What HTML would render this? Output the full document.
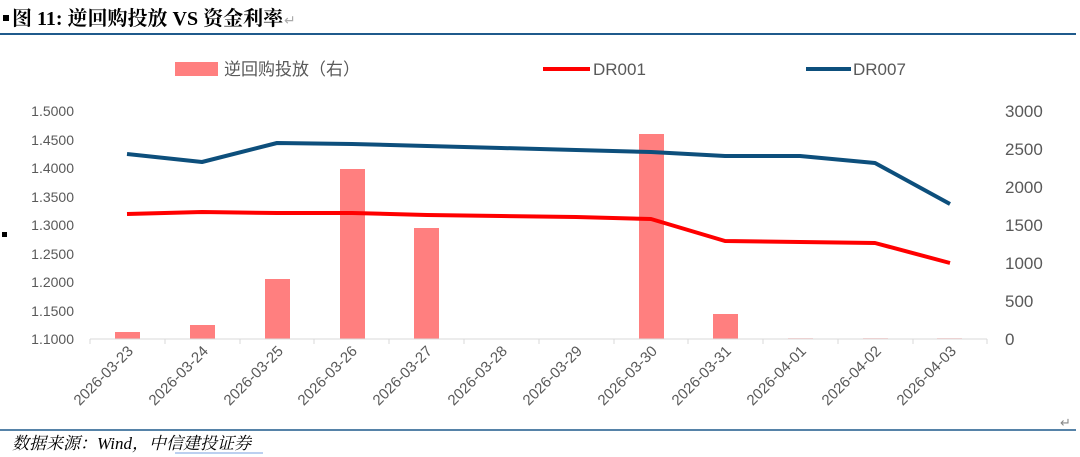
<!DOCTYPE html>
<html><head><meta charset="utf-8"><style>
body{margin:0;background:#fff;width:1080px;height:457px;overflow:hidden}
svg{display:block}
</style></head><body>
<svg width="1080" height="457" xmlns="http://www.w3.org/2000/svg" font-family="Liberation Sans, Noto Sans CJK SC, sans-serif">
<rect x="3" y="15" width="6" height="6" fill="#000"/>
<text x="12" y="25" font-size="20" font-weight="bold" font-family="Liberation Serif, Noto Serif CJK SC, serif" fill="#000">图 11: 逆回购投放 VS 资金利率</text>
<text x="284" y="25" font-size="14" fill="#aaa">↵</text>
<line x1="0" y1="34" x2="1076" y2="34" stroke="#1f5a8c" stroke-width="2"/>
<rect x="2" y="232" width="5" height="5" fill="#000"/>
<!-- legend -->
<rect x="175" y="62" width="43" height="14" fill="#ff7f7f"/>
<text x="224" y="75" font-size="17" fill="#595959">逆回购投放（右）</text>
<line x1="543" y1="69" x2="590" y2="69" stroke="#ff0000" stroke-width="4"/>
<text x="593" y="75" font-size="17" fill="#595959">DR001</text>
<line x1="806" y1="69" x2="851" y2="69" stroke="#0d4f7c" stroke-width="4"/>
<text x="853" y="75" font-size="17" fill="#595959">DR007</text>
<!-- left axis -->
<g font-size="14" fill="#595959" text-anchor="end">
<text x="74" y="116">1.5000</text><text x="74" y="145">1.4500</text><text x="74" y="173">1.4000</text><text x="74" y="202">1.3500</text><text x="74" y="230">1.3000</text><text x="74" y="259">1.2500</text><text x="74" y="287">1.2000</text><text x="74" y="316">1.1500</text><text x="74" y="344">1.1000</text>
</g>
<g font-size="17" fill="#595959" text-anchor="start">
<text x="1005" y="117">3000</text><text x="1005" y="155">2500</text><text x="1005" y="193">2000</text><text x="1005" y="231">1500</text><text x="1005" y="269">1000</text><text x="1005" y="307">500</text><text x="1005" y="345">0</text>
</g>
<!-- bars -->
<g fill="#ff7f7f">
<rect x="115" y="332" width="25" height="7"/>
<rect x="190" y="325" width="25" height="14"/>
<rect x="265" y="279" width="25" height="60"/>
<rect x="340" y="169" width="25" height="170"/>
<rect x="414" y="228" width="25" height="111"/>
<rect x="639" y="134" width="25" height="205"/>
<rect x="713" y="314" width="25" height="25"/>
<rect x="788" y="338" width="25" height="1" opacity="0.4"/>
<rect x="863" y="338" width="25" height="1" opacity="0.4"/>
<rect x="937" y="338" width="25" height="1" opacity="0.4"/>
</g>
<!-- x axis -->
<line x1="90" y1="339" x2="987" y2="339" stroke="#d9d9d9" stroke-width="1"/>
<g stroke="#d9d9d9">
<line x1="90" y1="339" x2="90" y2="344"/><line x1="165" y1="339" x2="165" y2="344"/><line x1="240" y1="339" x2="240" y2="344"/><line x1="314" y1="339" x2="314" y2="344"/><line x1="389" y1="339" x2="389" y2="344"/><line x1="464" y1="339" x2="464" y2="344"/><line x1="539" y1="339" x2="539" y2="344"/><line x1="614" y1="339" x2="614" y2="344"/><line x1="688" y1="339" x2="688" y2="344"/><line x1="763" y1="339" x2="763" y2="344"/><line x1="838" y1="339" x2="838" y2="344"/><line x1="913" y1="339" x2="913" y2="344"/><line x1="987" y1="339" x2="987" y2="344"/>
</g>
<g font-size="15" fill="#595959" text-anchor="end">
<text transform="translate(134,352) rotate(-45)">2026-03-23</text>
<text transform="translate(209,352) rotate(-45)">2026-03-24</text>
<text transform="translate(284,352) rotate(-45)">2026-03-25</text>
<text transform="translate(358,352) rotate(-45)">2026-03-26</text>
<text transform="translate(433,352) rotate(-45)">2026-03-27</text>
<text transform="translate(508,352) rotate(-45)">2026-03-28</text>
<text transform="translate(583,352) rotate(-45)">2026-03-29</text>
<text transform="translate(658,352) rotate(-45)">2026-03-30</text>
<text transform="translate(732,352) rotate(-45)">2026-03-31</text>
<text transform="translate(807,352) rotate(-45)">2026-04-01</text>
<text transform="translate(882,352) rotate(-45)">2026-04-02</text>
<text transform="translate(957,352) rotate(-45)">2026-04-03</text>
</g>
<!-- lines -->
<polyline fill="none" stroke="#ff0000" stroke-width="4" stroke-linejoin="round" points="127,214 202,212 277,213 352,213 427,215 501,216 576,217 651,219 725,241 800,242 875,243 950,263"/>
<polyline fill="none" stroke="#0d4f7c" stroke-width="4" stroke-linejoin="round" points="127,154 202,162 277,143 352,144 427,146 501,148 576,150 651,152 725,156 800,156 875,163 950,204"/>
<!-- footer -->
<text x="1060" y="427" font-size="13" fill="#888">↵</text>
<line x1="0" y1="430" x2="1076" y2="430" stroke="#1f5a8c" stroke-width="1.5"/>
<text x="12" y="449" font-size="17" font-style="italic" font-family="Liberation Serif, Noto Serif CJK SC, serif" fill="#000">数据来源：Wind，中信建投证券</text>
<line x1="175" y1="453" x2="263" y2="453" stroke="#7aa0e0" stroke-width="1"/>
</svg>
</body></html>
